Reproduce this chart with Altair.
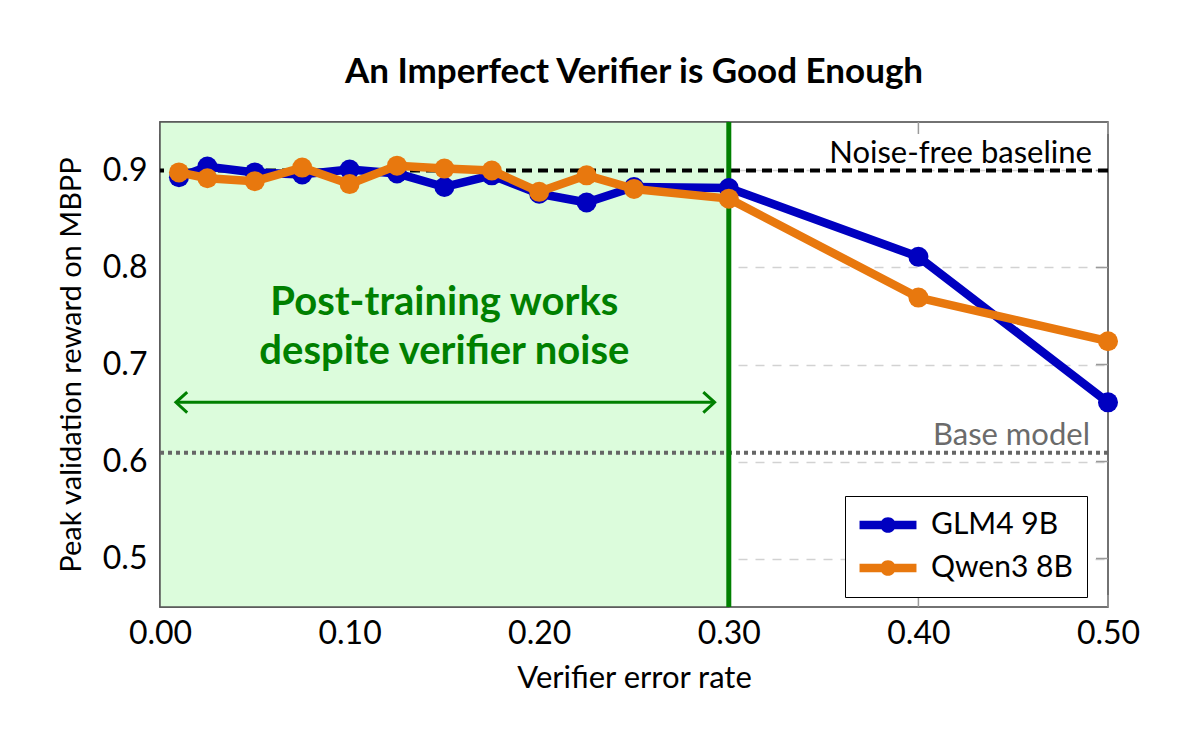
import altair as alt
import pandas as pd

# ---------------- data ----------------
x_vals = [0.01, 0.025, 0.05, 0.075, 0.1, 0.125, 0.15, 0.175, 0.2, 0.225, 0.25, 0.3, 0.4, 0.5]
glm4 = [0.893, 0.904, 0.898, 0.896, 0.901, 0.897, 0.883, 0.895, 0.876, 0.867, 0.883, 0.882, 0.811, 0.661]
qwen3 = [0.898, 0.892, 0.889, 0.903, 0.886, 0.905, 0.902, 0.900, 0.878, 0.895, 0.881, 0.871, 0.769, 0.724]
series_names = ["GLM4 9B", "Qwen3 8B"]
series_colors = ["#0000c0", "#e8780e"]

baseline_value = 0.9
base_model_value = 0.609
noise_region = [0.0, 0.3]
arrow_x = [0.0084, 0.2925]
arrow_y = 0.661
note_lines = ["Post-training works", "despite verifier noise"]
note_x = 0.15
note_y = 0.7515

x_ticks = [0.0, 0.1, 0.2, 0.3, 0.4, 0.5]
y_ticks = [0.5, 0.6, 0.7, 0.8, 0.9]
x_domain = [0.0, 0.5]
y_domain = [0.45, 0.95]

FONT = "Lato"
W, H = 948, 485
GREEN = "#008000"
TL = 12  # tick length

df = pd.DataFrame({
    "x": x_vals * 2,
    "value": glm4 + qwen3,
    "series": [series_names[0]] * len(x_vals) + [series_names[1]] * len(x_vals),
})

xs = alt.Scale(domain=x_domain, nice=False, zero=False)
ys = alt.Scale(domain=y_domain, nice=False, zero=False)

x_axis = alt.Axis(values=x_ticks, format=".2f", title="Verifier error rate", grid=False,
                  ticks=False, domain=False, labelFont=FONT, labelFontSize=32,
                  labelPadding=11, titleFont=FONT, titleFontSize=31, titleFontWeight="normal",
                  titlePadding=14, labelColor="black", titleColor="black", labelFlush=False)
y_axis = alt.Axis(values=y_ticks, format=".1f", title="Peak validation reward on MBPP", grid=True,
                  gridDash=[9, 8], gridColor="#d2d2d2", gridWidth=1.3,
                  ticks=False, domain=False, labelFont=FONT, labelFontSize=32,
                  labelPadding=13, titleFont=FONT, titleFontSize=29, titleFontWeight="normal",
                  titlePadding=16, labelColor="black", titleColor="black")


def X(field):
    return alt.X(field, scale=xs, axis=x_axis)


def Y(field):
    return alt.Y(field, scale=ys, axis=y_axis)


color_scale = alt.Scale(domain=series_names, range=series_colors)

legend_path = ("M-2.19,-0.33L2.19,-0.33L2.19,0.33L-2.19,0.33Z "
               "M-0.6,0A0.6,0.6 0 1,1 0.6,0A0.6,0.6 0 1,1 -0.6,0Z")
legend = alt.Legend(title=None, orient="none", legendX=685, legendY=374,
                    symbolType=legend_path, symbolSize=676, symbolStrokeWidth=0,
                    symbolOffset=14, labelOffset=28, labelFont=FONT, labelFontSize=30,
                    labelColor="black", padding=14, rowPadding=13,
                    strokeColor="black", fillColor="white", cornerRadius=0)

# ---------------- layers ----------------
tick_x = pd.DataFrame({"v": x_ticks})
tick_y = pd.DataFrame({"w": y_ticks})
tick_style = dict(color="#9a9a9a", strokeWidth=1.5)
top_ticks = alt.Chart(tick_x).mark_rule(**tick_style).encode(
    x=X("v:Q"), y=alt.value(0), y2=alt.value(TL))
bottom_ticks = alt.Chart(tick_x).mark_rule(**tick_style).encode(
    x=X("v:Q"), y=alt.value(H - TL), y2=alt.value(H))
right_ticks = alt.Chart(tick_y).mark_rule(**tick_style).encode(
    y=Y("w:Q"), x=alt.value(W - TL), x2=alt.value(W))

region = alt.Chart(pd.DataFrame({"x0": [noise_region[0]], "x1": [noise_region[1]]})).mark_rect(
    fill="#dcfcdc", stroke="#555555", strokeWidth=1.5).encode(
    x=X("x0:Q"), x2="x1:Q", y=alt.value(0), y2=alt.value(H))

baseline_rule = alt.Chart(pd.DataFrame({"y": [baseline_value]})).mark_rule(
    color="black", strokeWidth=4, strokeDash=[10, 6]).encode(y=Y("y:Q"))
base_rule = alt.Chart(pd.DataFrame({"y": [base_model_value]})).mark_rule(
    color="#666666", strokeWidth=4, strokeDash=[4, 4]).encode(y=Y("y:Q"))

vline = alt.Chart(pd.DataFrame({"x": [noise_region[1]]})).mark_rule(
    color=GREEN, strokeWidth=5).encode(x=X("x:Q"))

arrow_line = alt.Chart(pd.DataFrame({"x0": [arrow_x[0]], "x1": [arrow_x[1]], "y": [arrow_y]})).mark_rule(
    color=GREEN, strokeWidth=3).encode(x=X("x0:Q"), x2="x1:Q", y=Y("y:Q"))
head_l = alt.Chart(pd.DataFrame({"x": [arrow_x[0]], "y": [arrow_y]})).mark_point(
    shape="M1.1,-1L0,0L1.1,1", filled=False, stroke=GREEN, strokeWidth=3, size=420, opacity=1).encode(
    x=X("x:Q"), y=Y("y:Q"))
head_r = alt.Chart(pd.DataFrame({"x": [arrow_x[1]], "y": [arrow_y]})).mark_point(
    shape="M-1.1,-1L0,0L-1.1,1", filled=False, stroke=GREEN, strokeWidth=3, size=420, opacity=1).encode(
    x=X("x:Q"), y=Y("y:Q"))

note = alt.Chart(pd.DataFrame({"x": [note_x], "y": [note_y], "t": ["\n".join(note_lines)]})).mark_text(
    font=FONT, fontWeight="bold", fontSize=40, color=GREEN, align="center", baseline="alphabetic",
    lineBreak="\n", lineHeight=49).encode(
    x=X("x:Q"), y=Y("y:Q"), text="t:N")

label_nf = alt.Chart(pd.DataFrame({"x": [0.4915], "y": [baseline_value], "t": ["Noise-free baseline"]})).mark_text(
    font=FONT, fontSize=31, color="black", align="right", baseline="alphabetic", dy=-8).encode(
    x=X("x:Q"), y=Y("y:Q"), text="t:N")
label_bm = alt.Chart(pd.DataFrame({"x": [0.4905], "y": [base_model_value], "t": ["Base model"]})).mark_text(
    font=FONT, fontSize=31, color="#6b6b6b", align="right", baseline="alphabetic", dy=-8).encode(
    x=X("x:Q"), y=Y("y:Q"), text="t:N")


def series_layers(name):
    base = alt.Chart(df).transform_filter(alt.datum.series == name)
    line = base.mark_line(strokeWidth=8.5, strokeJoin="round").encode(
        x=X("x:Q"), y=Y("value:Q"),
        stroke=alt.Stroke("series:N", scale=color_scale, legend=legend))
    pts = base.mark_point(filled=True, size=400, opacity=1, strokeWidth=0).encode(
        x=X("x:Q"), y=Y("value:Q"),
        fill=alt.Fill("series:N", scale=color_scale, legend=legend))
    return [line, pts]


layers = [top_ticks, bottom_ticks, right_ticks, region, baseline_rule, base_rule,
          vline, arrow_line, head_l, head_r, note, label_nf, label_bm]
layers += series_layers(series_names[0]) + series_layers(series_names[1])

chart = alt.layer(*layers).properties(
    width=W, height=H,
    background="white",
    title=alt.TitleParams("An Imperfect Verifier is Good Enough", font=FONT, fontWeight="bold",
                          fontSize=35, anchor="middle", offset=2, baseline="alphabetic", color="black"),
    autosize=alt.AutoSizeParams(type="none"),
    padding={"left": 152, "top": 114, "right": 60, "bottom": 100},
).configure_view(stroke="#444444", strokeWidth=1.5)

chart.save("out.html", embed_options={"renderer": "svg", "actions": False})
